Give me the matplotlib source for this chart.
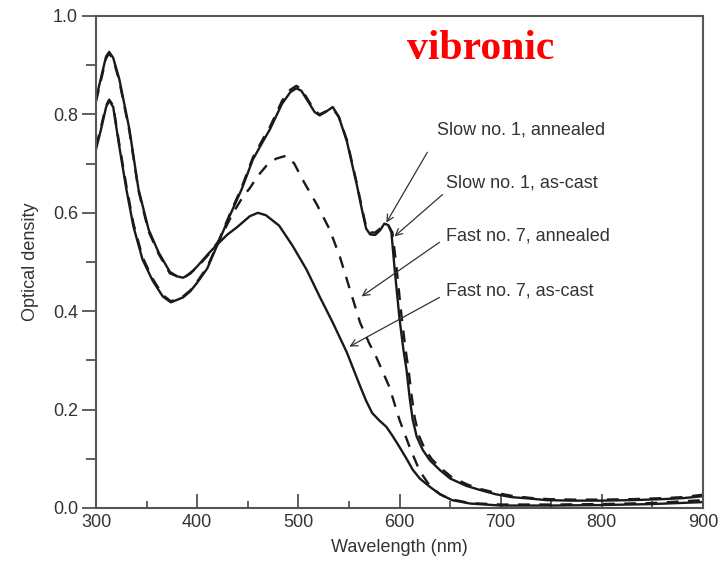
import matplotlib
matplotlib.use("Agg")
import matplotlib.pyplot as plt

# ---------------- data ----------------
slow_annealed_x = [300, 305, 310, 313, 317, 323, 330, 337, 346, 356, 366, 374, 386, 393, 400, 410, 419, 432, 444, 455,
                   465, 472, 484, 492, 498, 503, 510, 516, 521, 527, 534, 540, 548, 553, 558, 563, 567, 571, 576, 581,
                   585, 589, 592, 595, 600, 604, 607, 610, 613, 617, 623, 630, 640, 650, 666, 679, 695, 711, 730, 745,
                   770, 800, 830, 860, 880, 900]
slow_annealed_y = [0.729, 0.770, 0.815, 0.828, 0.815, 0.735, 0.648, 0.572, 0.505, 0.462, 0.430, 0.418, 0.428, 0.440,
                   0.458, 0.487, 0.530, 0.593, 0.648, 0.708, 0.745, 0.770, 0.822, 0.845, 0.853, 0.848, 0.825, 0.805,
                   0.798, 0.805, 0.815, 0.795, 0.745, 0.700, 0.655, 0.605, 0.568, 0.556, 0.555, 0.565, 0.578, 0.575,
                   0.560, 0.490, 0.385, 0.320, 0.280, 0.225, 0.180, 0.145, 0.118, 0.097, 0.077, 0.060, 0.045, 0.037,
                   0.028, 0.022, 0.019, 0.016, 0.015, 0.015, 0.016, 0.018, 0.020, 0.024]

slow_ascast_x = [300, 305, 310, 313, 317, 323, 330, 337, 346, 356, 366, 374, 386, 393, 400, 410, 419, 432, 444, 455,
                 465, 472, 484, 492, 498, 503, 510, 516, 521, 527, 534, 540, 548, 553, 558, 563, 567, 571, 576, 581,
                 585, 589, 593, 597, 602, 606, 609, 612, 615, 619, 625, 632, 642, 652, 668, 681, 697, 713, 732, 747,
                 772, 800, 830, 860, 880, 900]
slow_ascast_y = [0.735, 0.775, 0.818, 0.830, 0.818, 0.740, 0.655, 0.578, 0.510, 0.466, 0.433, 0.420, 0.430, 0.442,
                 0.460, 0.490, 0.532, 0.596, 0.652, 0.712, 0.750, 0.775, 0.828, 0.850, 0.858, 0.852, 0.828, 0.808,
                 0.800, 0.806, 0.812, 0.795, 0.748, 0.703, 0.658, 0.608, 0.572, 0.560, 0.560, 0.568, 0.575, 0.574,
                 0.560, 0.490, 0.390, 0.322, 0.280, 0.228, 0.184, 0.148, 0.120, 0.099, 0.079, 0.062, 0.047, 0.038,
                 0.030, 0.024, 0.020, 0.018, 0.017, 0.017, 0.018, 0.020, 0.022, 0.027]

fast_annealed_x = [300, 305, 310, 313, 317, 323, 333, 342, 352, 362, 373, 386, 400, 412, 422, 435, 445, 452, 460, 469,
                   478, 488, 496, 504, 518, 531, 541, 551, 561, 570, 577, 590, 600, 610, 620, 630, 640, 650, 670, 700,
                   750, 800, 850, 900]
fast_annealed_y = [0.826, 0.870, 0.914, 0.924, 0.912, 0.868, 0.766, 0.645, 0.562, 0.516, 0.477, 0.466, 0.489, 0.517,
                   0.545, 0.598, 0.632, 0.650, 0.675, 0.697, 0.710, 0.716, 0.700, 0.668, 0.618, 0.566, 0.511, 0.444,
                   0.377, 0.335, 0.307, 0.246, 0.179, 0.124, 0.075, 0.045, 0.028, 0.018, 0.010, 0.007, 0.007, 0.008,
                   0.010, 0.016]

fast_ascast_x = [300, 305, 310, 313, 317, 323, 333, 342, 352, 362, 373, 380, 386, 393, 400, 412, 422, 430, 439, 452,
                 460, 468, 481, 494, 508, 521, 534, 548, 561, 567, 573, 580, 587, 593, 600, 607, 613, 620, 630, 640,
                 652, 670, 700, 750, 800, 850, 900]
fast_ascast_y = [0.831, 0.875, 0.918, 0.927, 0.915, 0.872, 0.770, 0.648, 0.566, 0.519, 0.480, 0.471, 0.468, 0.476,
                 0.491, 0.519, 0.540, 0.556, 0.570, 0.593, 0.600, 0.595, 0.574, 0.534, 0.485, 0.430, 0.377, 0.316,
                 0.248, 0.218, 0.193, 0.178, 0.165, 0.147, 0.124, 0.100, 0.078, 0.060, 0.043, 0.028, 0.016, 0.009,
                 0.005, 0.005, 0.006, 0.008, 0.012]

labels = ["Slow no. 1, annealed", "Slow no. 1, as-cast", "Fast no. 7, annealed", "Fast no. 7, as-cast"]
label_pos = [(637, 0.769), (646, 0.660), (646, 0.553), (646, 0.442)]
arrow_from = [(627.5, 0.723), (642.5, 0.637), (639.5, 0.540), (639.5, 0.428)]
arrow_to = [(587, 0.580), (595, 0.552), (562.5, 0.430), (550.5, 0.328)]

x_ticks = [300, 400, 500, 600, 700, 800, 900]
y_ticks = [0.0, 0.2, 0.4, 0.6, 0.8, 1.0]

# ---------------- plot ----------------
narrow = ["Liberation Sans Narrow", "Liberation Sans", "DejaVu Sans"]
plain = ["Liberation Sans", "DejaVu Sans"]

fig = plt.figure(figsize=(7.24, 5.66), dpi=100)
ax = fig.add_axes([96 / 724, 1 - 508 / 566, (703 - 96) / 724, (508 - 16) / 566])

lc = "#1a1a1a"
ax.plot(slow_annealed_x, slow_annealed_y, color=lc, lw=1.7, solid_joinstyle="round")
ax.plot(slow_ascast_x, slow_ascast_y, color=lc, lw=1.7, dashes=(5, 4))
ax.plot(fast_annealed_x, fast_annealed_y, color=lc, lw=1.7, dashes=(5, 4))
ax.plot(fast_ascast_x, fast_ascast_y, color=lc, lw=1.7, solid_joinstyle="round")

for lab, pos in zip(labels, label_pos):
    ax.text(pos[0], pos[1], lab, family=narrow, fontsize=13, color="#333333", ha="left", va="center")
for a, b in zip(arrow_from, arrow_to):
    ax.annotate("", xy=b, xytext=a,
                arrowprops=dict(arrowstyle="->", color="#333333", lw=0.9, shrinkA=0, shrinkB=0,
                                mutation_scale=12))

ax.text(0.633, 0.932, "vibronic", transform=ax.transAxes, color="red", fontsize=30,
        fontweight="bold", family=["Liberation Serif", "DejaVu Serif"], ha="center", va="center")

ax.set_xlim(300, 900)
ax.set_ylim(0, 1.0)
ax.set_xticks(x_ticks)
ax.set_yticks(y_ticks)
ax.set_xticks([350, 450, 550, 650, 750, 850], minor=True)
ax.set_yticks([0.1, 0.3, 0.5, 0.7, 0.9], minor=True)
ax.set_yticklabels([f"{v:.1f}" for v in y_ticks])
ax.set_xticklabels([str(v) for v in x_ticks])

ax.tick_params(axis="x", which="major", direction="in", length=10, width=1.2, colors="#444444",
               labelcolor="#333333", labelsize=13, pad=4)
ax.tick_params(axis="x", which="minor", direction="in", length=5, width=1.2, colors="#444444")
ax.tick_params(axis="y", which="major", direction="out", length=10, width=1.2, colors="#444444",
               labelcolor="#333333", labelsize=13, pad=3)
ax.tick_params(axis="y", which="minor", direction="out", length=7, width=1.2, colors="#444444")
for lab in ax.get_xticklabels() + ax.get_yticklabels():
    lab.set_family(plain)

for s in ax.spines.values():
    s.set_color("#555555")
    s.set_linewidth(1.5)

ax.set_xlabel("Wavelength (nm)", family=narrow, fontsize=13, color="#333333", labelpad=6)
ax.set_ylabel("Optical density", family=narrow, fontsize=13, color="#333333", labelpad=10)

fig.savefig("out.png", dpi=100)
